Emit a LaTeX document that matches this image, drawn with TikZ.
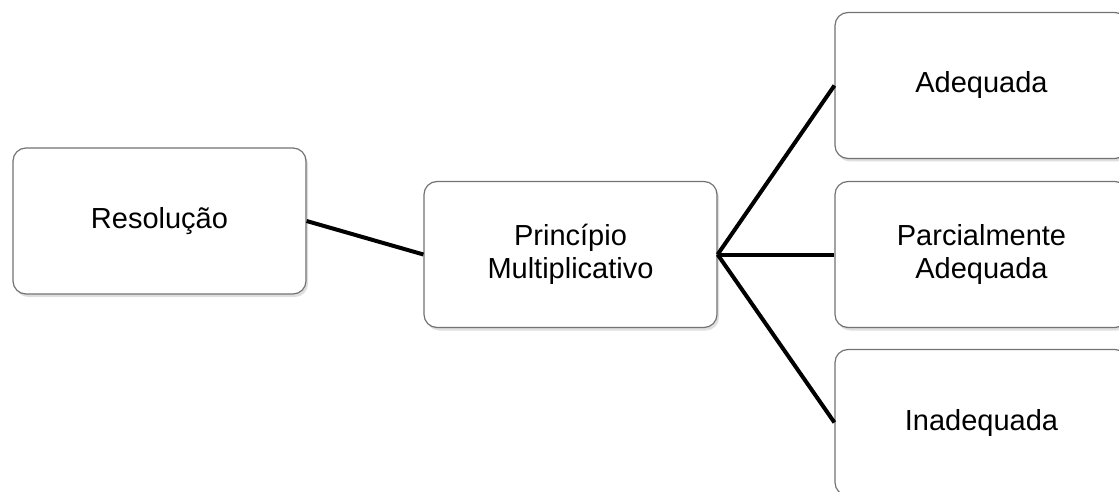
\documentclass[tikz,border=0pt]{standalone}
\usepackage{fontspec}
\setmainfont{Liberation Sans}
\usetikzlibrary{shadows}
\begin{document}
\begin{tikzpicture}[x=1pt,y=-1pt,
  box/.style={draw=black!55, line width=1.2pt, fill=white, rounded corners=13pt,
    minimum width=293pt, minimum height=146pt, align=center,
    font=\fontsize{29}{33}\selectfont,
    drop shadow={opacity=0.25, shadow xshift=2pt, shadow yshift=-3pt}},
  link/.style={line width=4pt, black}]
\clip (0,0) rectangle (1119,492);
\fill[white] (0,0) rectangle (1119,492);
\node[box] (res) at (159.5,221) {Resolução};
\node[box] (pm) at (570.5,254.5) {Princípio\\Multiplicativo};
\node[box] (ad) at (981.5,85.5) {Adequada};
\node[box] (pa) at (981.5,254.5) {Parcialmente\\Adequada};
\node[box] (in) at (981.5,422.5) {Inadequada};
\draw[link] (res.east) -- (pm.west);
\draw[link] (pm.east) -- (ad.west);
\draw[link] (pm.east) -- (pa.west);
\draw[link] (pm.east) -- (in.west);
\end{tikzpicture}
\end{document}
